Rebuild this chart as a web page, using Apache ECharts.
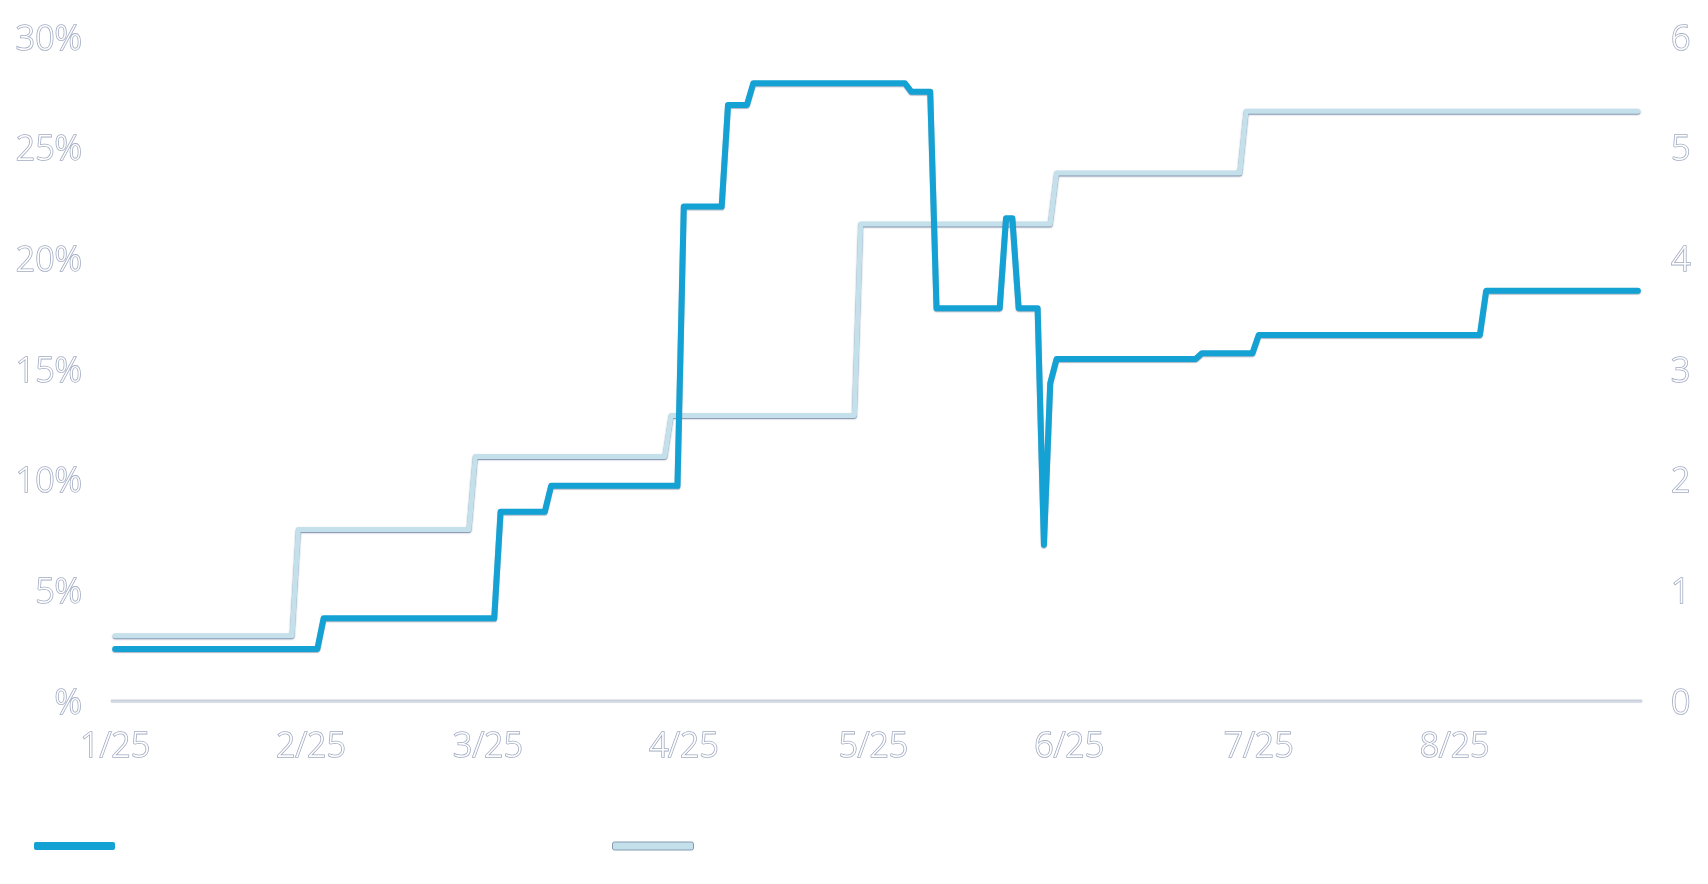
<!DOCTYPE html>
<html>
<head>
<meta charset="utf-8">
<script src="https://cdn.jsdelivr.net/npm/echarts@6/dist/echarts.min.js"></script>
<style>
html,body{margin:0;padding:0;background:#ffffff;}
#chart{width:1708px;height:884px;}
</style>
</head>
<body>
<div id="chart"></div>
<script>
// Daily categories: 2025-01-01 .. 2025-08-30
const startDate = '2025-01-01';
const endDate = '2025-08-30';
const categories = [];
(function () {
  const d = new Date(startDate + 'T00:00:00Z');
  const e = new Date(endDate + 'T00:00:00Z');
  while (d <= e) {
    categories.push(d.toISOString().slice(0, 10));
    d.setUTCDate(d.getUTCDate() + 1);
  }
})();

// Left axis series (%), one value per day
const seriesPctName = 'Share (%)';
const seriesPct = [
  // Jan
  2.35,2.35,2.35,2.35,2.35,2.35,2.35,2.35,2.35,2.35,2.35,2.35,2.35,2.35,2.35,2.35,2.35,2.35,2.35,2.35,2.35,2.35,2.35,2.35,2.35,2.35,2.35,2.35,2.35,2.35,2.35,
  // Feb
  2.35,2.35,3.74,3.74,3.74,3.74,3.74,3.74,3.74,3.74,3.74,3.74,3.74,3.74,3.74,3.74,3.74,3.74,3.74,3.74,3.74,3.74,3.74,3.74,3.74,3.74,3.74,3.74,
  // Mar
  3.74,3.74,8.55,8.55,8.55,8.55,8.55,8.55,8.55,8.55,9.72,9.72,9.72,9.72,9.72,9.72,9.72,9.72,9.72,9.72,9.72,9.72,9.72,9.72,9.72,9.72,9.72,9.72,9.72,9.72,9.72,
  // Apr
  22.34,22.34,22.34,22.34,22.34,22.34,22.34,26.93,26.93,26.93,26.93,27.91,27.91,27.91,27.91,27.91,27.91,27.91,27.91,27.91,27.91,27.91,27.91,27.91,27.91,27.91,27.91,27.91,27.91,27.91,
  // May
  27.91,27.91,27.91,27.91,27.91,27.91,27.53,27.53,27.53,27.53,17.75,17.75,17.75,17.75,17.75,17.75,17.75,17.75,17.75,17.75,17.75,21.81,21.81,17.75,17.75,17.75,17.75,7.06,14.36,15.45,15.45,
  // Jun
  15.45,15.45,15.45,15.45,15.45,15.45,15.45,15.45,15.45,15.45,15.45,15.45,15.45,15.45,15.45,15.45,15.45,15.45,15.45,15.45,15.45,15.71,15.71,15.71,15.71,15.71,15.71,15.71,15.71,15.71,
  // Jul
  16.54,16.54,16.54,16.54,16.54,16.54,16.54,16.54,16.54,16.54,16.54,16.54,16.54,16.54,16.54,16.54,16.54,16.54,16.54,16.54,16.54,16.54,16.54,16.54,16.54,16.54,16.54,16.54,16.54,16.54,16.54,
  // Aug (1..30)
  16.54,16.54,16.54,16.54,16.54,18.54,18.54,18.54,18.54,18.54,18.54,18.54,18.54,18.54,18.54,18.54,18.54,18.54,18.54,18.54,18.54,18.54,18.54,18.54,18.54,18.54,18.54,18.54,18.54,18.54
];

// Right axis series, one value per day
const seriesCountName = 'Count';
const seriesCount = [
  // Jan
  0.59,0.59,0.59,0.59,0.59,0.59,0.59,0.59,0.59,0.59,0.59,0.59,0.59,0.59,0.59,0.59,0.59,0.59,0.59,0.59,0.59,0.59,0.59,0.59,0.59,0.59,0.59,0.59,0.59,1.55,1.55,
  // Feb
  1.55,1.55,1.55,1.55,1.55,1.55,1.55,1.55,1.55,1.55,1.55,1.55,1.55,1.55,1.55,1.55,1.55,1.55,1.55,1.55,1.55,1.55,1.55,1.55,1.55,1.55,2.21,2.21,
  // Mar
  2.21,2.21,2.21,2.21,2.21,2.21,2.21,2.21,2.21,2.21,2.21,2.21,2.21,2.21,2.21,2.21,2.21,2.21,2.21,2.21,2.21,2.21,2.21,2.21,2.21,2.21,2.21,2.21,2.21,2.58,2.58,
  // Apr
  2.58,2.58,2.58,2.58,2.58,2.58,2.58,2.58,2.58,2.58,2.58,2.58,2.58,2.58,2.58,2.58,2.58,2.58,2.58,2.58,2.58,2.58,2.58,2.58,2.58,2.58,2.58,2.58,4.31,4.31,
  // May
  4.31,4.31,4.31,4.31,4.31,4.31,4.31,4.31,4.31,4.31,4.31,4.31,4.31,4.31,4.31,4.31,4.31,4.31,4.31,4.31,4.31,4.31,4.31,4.31,4.31,4.31,4.31,4.31,4.31,4.77,4.77,
  // Jun
  4.77,4.77,4.77,4.77,4.77,4.77,4.77,4.77,4.77,4.77,4.77,4.77,4.77,4.77,4.77,4.77,4.77,4.77,4.77,4.77,4.77,4.77,4.77,4.77,4.77,4.77,4.77,4.77,5.33,5.33,
  // Jul
  5.33,5.33,5.33,5.33,5.33,5.33,5.33,5.33,5.33,5.33,5.33,5.33,5.33,5.33,5.33,5.33,5.33,5.33,5.33,5.33,5.33,5.33,5.33,5.33,5.33,5.33,5.33,5.33,5.33,5.33,5.33,
  // Aug (1..30)
  5.33,5.33,5.33,5.33,5.33,5.33,5.33,5.33,5.33,5.33,5.33,5.33,5.33,5.33,5.33,5.33,5.33,5.33,5.33,5.33,5.33,5.33,5.33,5.33,5.33,5.33,5.33,5.33,5.33,5.33
];

// Axis scales
const leftAxisMin = 0, leftAxisMax = 30, leftAxisStep = 5;
const rightAxisMin = 0, rightAxisMax = 6, rightAxisStep = 1;

const labelFont = {
  fontFamily: '"Open Sans", Lato, "Noto Sans", sans-serif',
  fontSize: 34,
  fontWeight: 300,
  color: '#ffffff',
  textBorderColor: '#a0aac1',
  textBorderWidth: 1.6
};
const yRich = { v: Object.assign({}, labelFont, { padding: [6, 0, 0, 0] }) };

const chart = echarts.init(document.getElementById('chart'));
chart.setOption({
  animation: false,
  backgroundColor: '#ffffff',
  grid: { left: 112, right: 67, top: 37, bottom: 183, containLabel: false },
  legend: [
    {
      data: [seriesPctName], left: 29, top: 835, icon: 'roundRect',
      itemWidth: 81, itemHeight: 8, itemGap: 0,
      textStyle: { color: '#ffffff', fontSize: 12 }
    },
    {
      data: [seriesCountName], left: 607, top: 835, icon: 'roundRect',
      itemWidth: 81, itemHeight: 8, itemGap: 0,
      itemStyle: { borderColor: '#8499b3', borderWidth: 1 },
      textStyle: { color: '#ffffff', fontSize: 12 }
    }
  ],
  xAxis: {
    type: 'category',
    data: categories,
    boundaryGap: true,
    axisLine: { show: true, lineStyle: { color: '#d3d9e3', width: 2.5, cap: 'round', shadowColor: 'rgba(130,145,175,0.7)', shadowBlur: 1, shadowOffsetY: -0.5 } },
    axisTick: { show: false },
    splitLine: { show: false },
    axisLabel: Object.assign({}, labelFont, {
      margin: 29,
      interval: function (index, value) { return value.slice(8, 10) === '01'; },
      formatter: function (value) {
        return (+value.slice(5, 7)) + '/' + value.slice(2, 4);
      }
    })
  },
  yAxis: [
    {
      type: 'value', min: leftAxisMin, max: leftAxisMax, interval: leftAxisStep,
      axisLine: { show: false }, axisTick: { show: false }, splitLine: { show: false },
      axisLabel: Object.assign({}, labelFont, {
        margin: 30,
        rich: yRich,
        formatter: function (v) { return '{v|' + (v === 0 ? '%' : v + '%') + '}'; }
      })
    },
    {
      type: 'value', min: rightAxisMin, max: rightAxisMax, interval: rightAxisStep,
      position: 'right',
      axisLine: { show: false }, axisTick: { show: false }, splitLine: { show: false },
      axisLabel: Object.assign({}, labelFont, {
        margin: 30,
        rich: yRich,
        formatter: function (v) { return '{v|' + v + '}'; }
      })
    }
  ],
  series: [
    {
      name: seriesCountName, type: 'line', yAxisIndex: 1, data: seriesCount,
      symbol: 'none', z: 2,
      color: '#c4e0eb',
      lineStyle: { color: '#c4e0eb', width: 5, cap: 'round', join: 'round',
        shadowColor: 'rgba(70,95,135,0.75)', shadowBlur: 1.5, shadowOffsetY: 1 }
    },
    {
      name: seriesPctName, type: 'line', yAxisIndex: 0, data: seriesPct,
      symbol: 'none', z: 3,
      color: '#14a1d3',
      lineStyle: { color: '#14a1d3', width: 6, cap: 'round', join: 'round',
        shadowColor: 'rgba(20,50,90,0.35)', shadowBlur: 1, shadowOffsetY: 1 }
    }
  ]
});
</script>
</body>
</html>
